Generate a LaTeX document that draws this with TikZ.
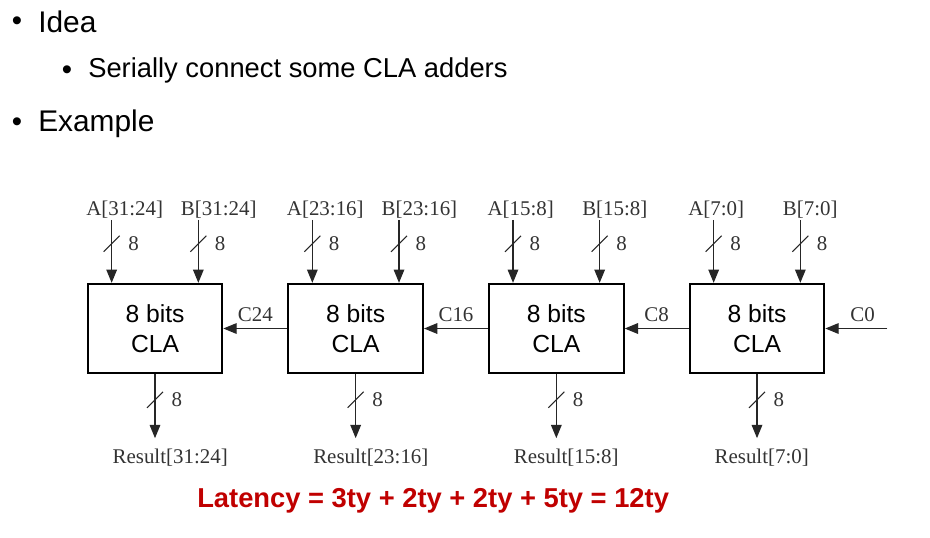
\documentclass[tikz,border=0pt]{standalone}
\usepackage{fontspec}
\setmainfont{Liberation Serif}
\setsansfont{Liberation Sans}
\usetikzlibrary{arrows.meta, positioning}
\definecolor{lateRed}{HTML}{C00000}

\begin{document}
\begin{tikzpicture}[x=0.75pt, y=-0.75pt,
    node distance=48pt,
    cla/.style={rectangle, draw, line width=1.5pt, minimum width=101pt, minimum height=67pt,
                inner sep=0pt, align=center, font=\sffamily\fontsize{18.5}{22.5}\selectfont},
    sig/.style={inner sep=1pt, text=black!80, font=\fontsize{15.7}{18}\selectfont},
    bus/.style={line width=0.9pt, draw=black!85, -{Triangle[length=10pt, width=8pt]}},
    buswd/.style={sig, anchor=west, xshift=11pt},
    busmark/.pic={\draw[-, line width=0.8pt] (-8,8) -- (8,-8); \node[buswd] at (0,0) {8};},
    item/.style={anchor=base west, inner sep=0pt, font=\sffamily\fontsize{22.4}{26}\selectfont},
    subitem/.style={anchor=base west, inner sep=0pt, font=\sffamily\fontsize{20.5}{24}\selectfont},
    dot/.style={inner sep=0pt, font=\sffamily\fontsize{22}{24}\selectfont},
  ]
    \useasboundingbox (0,0) rectangle (930,537);

    % bullets
    \node[dot] (b1) at (17,24) {\textbullet};
    \node[item] (idea) at (38,32) {Idea};
    \node[dot] (b2) at (67,73) {\textbullet};
    \node[subitem] (serial) at (88,77) {Serially connect some CLA adders};
    \node[dot] (b3) at (17,125) {\textbullet};
    \node[item] (example) at (38,131) {Example};

    % the four adders
    \node[cla] (cla24) at (155,328.5) {8 bits\\CLA};
    \node[cla, right=of cla24] (cla16) {8 bits\\CLA};
    \node[cla, right=of cla16] (cla8) {8 bits\\CLA};
    \node[cla, right=of cla8] (cla0) {8 bits\\CLA};

    % operand buses
    \coordinate (ia24) at ([shift={(25,-63)}]cla24.north west);
    \coordinate (ib24) at ([shift={(-25,-63)}]cla24.north east);
    \coordinate (ia16) at ([shift={(25,-63)}]cla16.north west);
    \coordinate (ib16) at ([shift={(-25,-63)}]cla16.north east);
    \coordinate (ia8) at ([shift={(25,-63)}]cla8.north west);
    \coordinate (ib8) at ([shift={(-25,-63)}]cla8.north east);
    \coordinate (ia0) at ([shift={(25,-63)}]cla0.north west);
    \coordinate (ib0) at ([shift={(-25,-63)}]cla0.north east);

    \node[sig, anchor=base west] (la24) at ([shift={(-27,-4)}]ia24) {A[31:24]};
    \node[sig, anchor=base west] (lb24) at ([shift={(-19,-4)}]ib24) {B[31:24]};
    \node[sig, anchor=base west] (la16) at ([shift={(-27,-4)}]ia16) {A[23:16]};
    \node[sig, anchor=base west] (lb16) at ([shift={(-19,-4)}]ib16) {B[23:16]};
    \node[sig, anchor=base west] (la8) at ([shift={(-27,-4)}]ia8) {A[15:8]};
    \node[sig, anchor=base west] (lb8) at ([shift={(-19,-4)}]ib8) {B[15:8]};
    \node[sig, anchor=base west] (la0) at ([shift={(-27,-4)}]ia0) {A[7:0]};
    \node[sig, anchor=base west] (lb0) at ([shift={(-19,-4)}]ib0) {B[7:0]};

    \draw[bus] (ia24) -- pic[pos=.38]{busmark} (cla24.north -| ia24);
    \draw[bus] (ib24) -- pic[pos=.38]{busmark} (cla24.north -| ib24);
    \draw[bus] (ia16) -- pic[pos=.38]{busmark} (cla16.north -| ia16);
    \draw[bus] (ib16) -- pic[pos=.38]{busmark} (cla16.north -| ib16);
    \draw[bus] (ia8) -- pic[pos=.38]{busmark} (cla8.north -| ia8);
    \draw[bus] (ib8) -- pic[pos=.38]{busmark} (cla8.north -| ib8);
    \draw[bus] (ia0) -- pic[pos=.38]{busmark} (cla0.north -| ia0);
    \draw[bus] (ib0) -- pic[pos=.38]{busmark} (cla0.north -| ib0);

    % result buses
    \coordinate[below=of cla24] (r24);
    \coordinate[below=of cla16] (r16);
    \coordinate[below=of cla8] (r8);
    \coordinate[below=of cla0] (r0);

    \draw[bus] (cla24.south) -- pic[pos=.4]{busmark} (r24);
    \draw[bus] (cla16.south) -- pic[pos=.4]{busmark} (r16);
    \draw[bus] (cla8.south) -- pic[pos=.4]{busmark} (r8);
    \draw[bus] (cla0.south) -- pic[pos=.4]{busmark} (r0);

    \node[sig, anchor=base west] (lr24) at ([shift={(-44,25)}]r24) {Result[31:24]};
    \node[sig, anchor=base west] (lr16) at ([shift={(-44,25)}]r16) {Result[23:16]};
    \node[sig, anchor=base west] (lr8) at ([shift={(-44,25)}]r8) {Result[15:8]};
    \node[sig, anchor=base west] (lr0) at ([shift={(-44,25)}]r0) {Result[7:0]};

    % carry chain
    \coordinate (cin) at ([shift={(62,0)}]cla0.east);
    \draw[bus] (cin) -- node[sig, above=4pt, pos=.4] (lc0) {C0} (cla0.east);
    \draw[bus] (cla0.west) -- node[sig, above=4pt] (lc8) {C8} (cla8.east);
    \draw[bus] (cla8.west) -- node[sig, above=4pt] (lc16) {C16} (cla16.east);
    \draw[bus] (cla16.west) -- node[sig, above=4pt] (lc24) {C24} (cla24.east);

    \node[anchor=base west, inner sep=0pt, text=lateRed,
          font=\sffamily\bfseries\fontsize{20.5}{24}\selectfont] (lat) at (197,507)
          {Latency = 3ty + 2ty + 2ty + 5ty = 12ty};
  \end{tikzpicture}
\end{document}
